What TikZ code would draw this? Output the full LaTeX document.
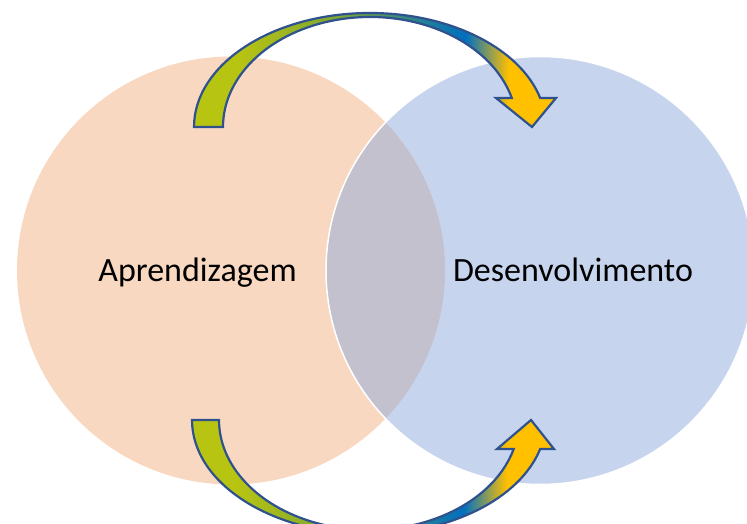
\documentclass[tikz,border=0pt]{standalone}
\usepackage{fontspec}
\setmainfont{Carlito}
\definecolor{peach}{RGB}{244,177,131}
\definecolor{lblue}{RGB}{143,170,220}
\definecolor{aline}{RGB}{47,82,143}
\definecolor{alime}{RGB}{184,196,18}
\definecolor{aolive}{RGB}{125,165,50}
\definecolor{ateal}{RGB}{40,130,145}
\definecolor{ablue}{RGB}{0,112,192}
\definecolor{agold}{RGB}{255,192,0}
\pgfdeclarehorizontalshading{arrowshade}{100bp}{color(0bp)=(alime); color(25bp)=(alime); color(31bp)=(alime); color(45bp)=(aolive); color(56bp)=(ateal); color(62.5bp)=(ablue); color(68.5bp)=(agold); color(100bp)=(agold)}
\tikzset{
  venn/.style={circle, minimum size=428pt, inner sep=0pt, fill opacity=0.5},
  curvearrow/.style={shade, shading=arrowshade, draw=aline, line width=2.2pt, line join=miter},
  label/.style={font=\fontsize{34}{40}\selectfont, anchor=base, text=black}
}
\begin{document}
\begin{tikzpicture}[x=1pt,y=1pt]
\useasboundingbox (0,0) rectangle (747,524);
\clip (0,0) rectangle (747,524);
\node[venn, fill=peach] (lc) at (231,253.5) {};
\node[venn, fill=lblue, draw=white, line width=1.5pt] (rc) at (540,253.5) {};
% top curved arrow
\path[curvearrow] (194,397) arc[start angle=180, end angle=14.74, x radius=176pt, y radius=114pt]
  -- (556,426) -- (532,397) -- (496,426) -- (511.8,426)
  arc[start angle=15.29, end angle=180, x radius=147pt, y radius=110pt] -- cycle;
% bottom curved arrow
\path[curvearrow] (192,104) arc[start angle=180, end angle=345.26, x radius=177pt, y radius=114pt]
  -- (554,75) -- (531,104) -- (497,75) -- (513.7,75)
  arc[start angle=-15.29, end angle=-180, x radius=150pt, y radius=110pt] -- cycle;
\node[label] (t1) at (197.5,242) {Aprendizagem};
\node[label] (t2) at (573,242) {Desenvolvimento};
\end{tikzpicture}
\end{document}
